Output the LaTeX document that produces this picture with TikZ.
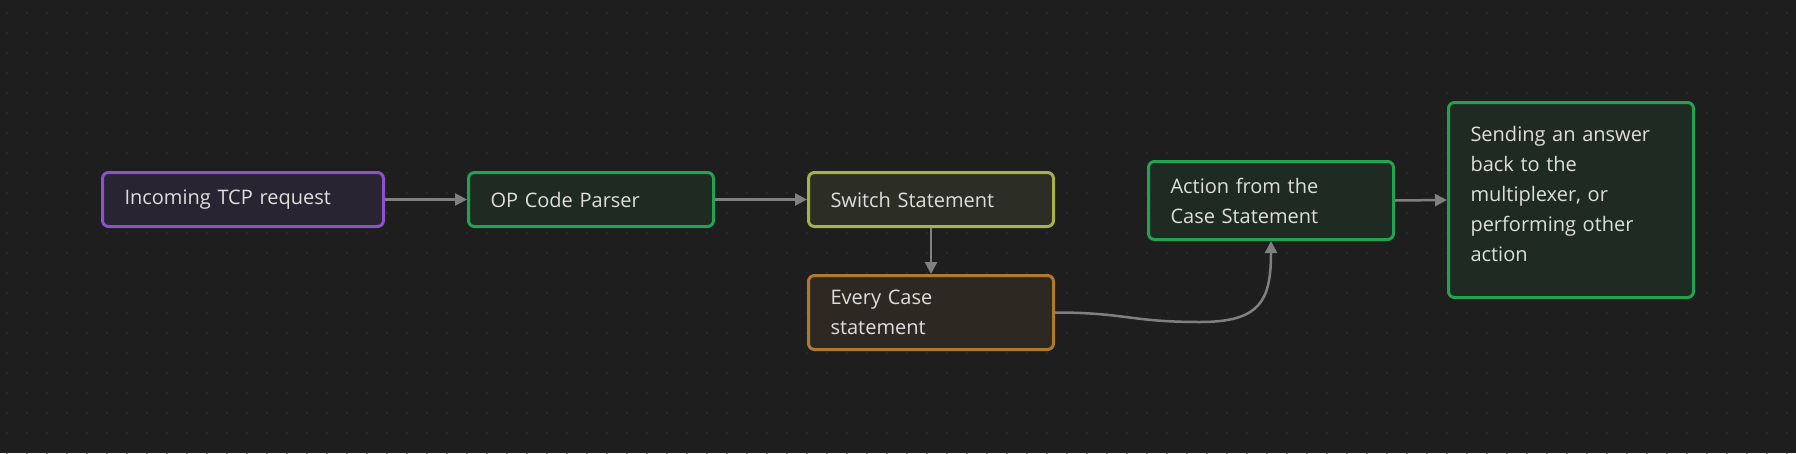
\documentclass[tikz,border=0pt]{standalone}
\usepackage{fontspec}
\setmainfont{Open Sans}
\usepackage[RGB]{xcolor}
\usetikzlibrary{arrows.meta}
\definecolor{canvas}{RGB}{30,30,30}
\definecolor{dotc}{RGB}{54,54,54}
\definecolor{ink}{RGB}{222,222,222}
\definecolor{wire}{RGB}{128,128,128}
\definecolor{P}{RGB}{141,82,199}
\definecolor{Pf}{RGB}{41,36,50}
\definecolor{G}{RGB}{34,163,80}
\definecolor{Gf}{RGB}{31,42,35}
\definecolor{Y}{RGB}{166,178,74}
\definecolor{Yf}{RGB}{44,45,36}
\definecolor{O}{RGB}{176,122,42}
\definecolor{Of}{RGB}{45,40,34}
\newcommand{\drawcanvasdots}{
    \foreach \x in {7,27,...,1796}{
    \foreach \y in {13,33,...,453}{
      \fill[dotc] (\x,\y) circle (0.8);
    }
    }
}
\tikzset{
  card/.style 2 args={draw=#1, fill=#2, line width=3pt, rounded corners=6pt,
    text=ink, align=left, inner xsep=22pt, inner ysep=0pt,
    font=\fontsize{20}{30}\selectfont},
  flow/.style={draw=wire, line width=2.5pt, -{Triangle[length=12pt,width=12pt]}}
}

\begin{document}
\begin{tikzpicture}[x=1pt,y=-1pt]
\fill[canvas] (0,0) rectangle (1796,453);
\useasboundingbox (0,0) rectangle (1796,453);
\drawcanvasdots
\node[card={P}{Pf}, minimum width=281pt, minimum height=54pt, text width=237pt] (tcp) at (243,199.5) {Incoming TCP request};
\node[card={G}{Gf}, minimum width=245pt, minimum height=54pt, text width=201pt] (parser) at (591,199.5) {OP Code Parser};
\node[card={Y}{Yf}, minimum width=245pt, minimum height=54pt, text width=201pt] (switch) at (931,199.5) {Switch Statement};
\node[card={O}{Of}, minimum width=245pt, minimum height=74pt, text width=201pt] (cases) at (931,312.5) {Every Case\\statement};
\node[card={G}{Gf}, minimum width=245pt, minimum height=78pt, text width=201pt] (action) at (1271,200.5) {Action from the\\Case Statement};
\node[card={G}{Gf}, minimum width=245pt, minimum height=195pt, text width=201pt] (answer) at (1571,200) {Sending an answer\\back to the\\multiplexer, or\\performing other\\action\\[-18pt]\mbox{}};
\coordinate (bend) at (1200,322);
\draw[flow] (tcp.east) -- (parser.west);
\draw[flow] (parser.east) -- (switch.west);
\draw[flow] (switch.south) -- (cases.north);
\draw[flow] (cases.east) .. controls +(70,0) and +(-70,0) .. (bend) .. controls +(60,0) and +(0,60) .. (action.south);
\draw[flow] (action.east) -- (answer.west);
\end{tikzpicture}
\end{document}
